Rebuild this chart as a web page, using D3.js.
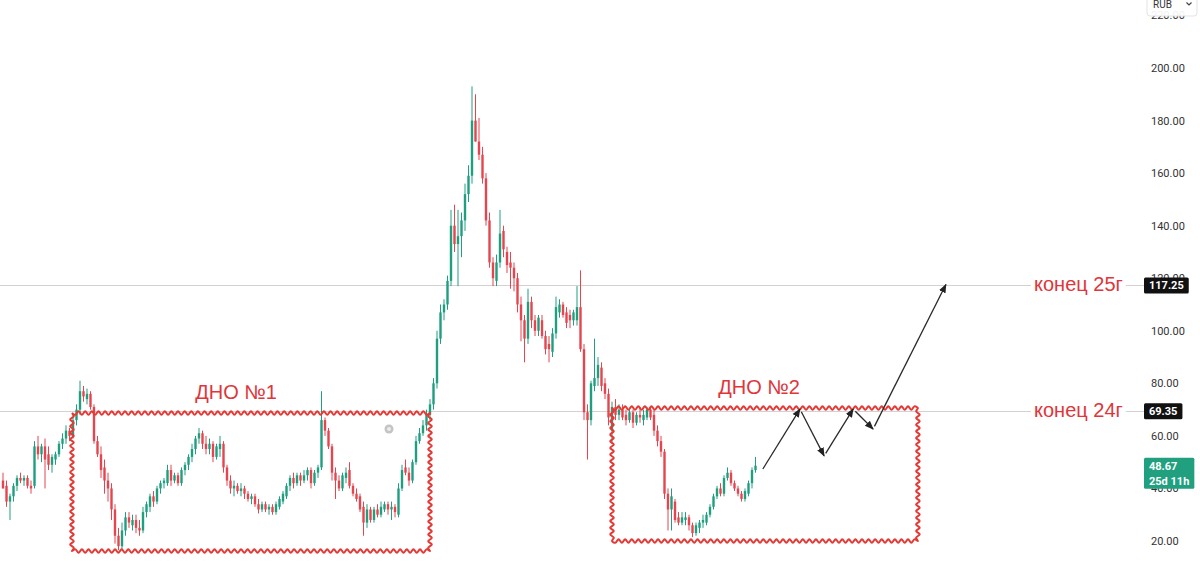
<!DOCTYPE html>
<html>
<head>
<meta charset="utf-8">
<script src="https://cdnjs.cloudflare.com/ajax/libs/d3/7.8.5/d3.min.js"></script>
<style>
html, body { margin: 0; padding: 0; background: #fff; }
svg { display: block; }
</style>
</head>
<body>
<svg id="chart" width="1200" height="562"></svg>
<script>
// candles as [open, high, low, close], split into runs of the chart
var leftRun = [[43,46,40,40],[41,43,33,35],[35,38,28,37],[37,42,35,41],[41,45,39,44],[44,46,42,43],[43,45,41,44],[44,45,40,41],[41,43,38,40],[41,58,40,56],[56,60,51,53],[53,57,50,56],[56,59,40,51],[53,56,47,49],[49,53,46,52],[51,54,49,53],[53,58,52,57],[57,61,55,59],[59,64,57,62],[62,63,58,60],[60,68,59,66],[66,72,64,70],[70,81,68,77],[77,79,73,75],[74,78,72,76],[76,77,70,71]];
var firstDrop = [[71,72,57,58],[58,60,52,53],[53,56,44,47],[48,51,38,43],[43,46,35,40],[40,42,28,32],[32,34,19,22],[22,25,16.5,18]];
var firstRise = [[18,27,17,24],[24,31,22,29],[29,31,25,27],[26,30,24,28],[28,30,23,25],[25,28,22,24],[24,33,23,31],[31,35,29,34],[33,38,31,37],[37,39,33,35],[35,41,34,40],[40,43,38,42],[42,44,40,43],[42,49,41,47],[47,49,41,43],[43,46,42,45],[45,46,41,42],[42,48,41,47],[47,50,45,49],[49,53,47,52],[52,57,50,55],[55,60,53,59],[59,63,57,61]];
var firstFade = [[61,62,55,57],[57,60,53,55],[55,59,53,57],[57,58,50,52],[52,57,51,56],[55,60,52,57],[57,58,46,48],[48,49,41,43],[43,45,38,40],[40,43,37,41],[41,42,38,39],[39,42,37,40],[40,41,36,38],[38,39,35,36],[36,38,34,37],[37,38,33,34],[34,36,30.5,32],[32,35,31,34],[34,35,31,32],[32,34,30,33],[33,34,30,31],[31,35,30,34],[33,37,32,36]];
var secondBump = [[35,39,34,38],[37,42,36,41],[41,45,39,44],[44,46,40,42],[42,46,41,45],[45,46,41,43],[43,47,42,45],[45,48,43,47],[47,48,40,42],[42,47,41,46],[46,49,44,48],[48,77,47,66]];
var secondFade = [[66,67,60,62],[62,63,55,56],[56,57,43,46],[46,48,36,43],[43,45,39,40],[40,46,39,45],[44,48,42,46],[47,50,40,41],[41,42,37,38],[38,40,35,36],[37,38,31,32],[33,35,22,27],[27,34,25,32],[32,33,27,28],[28,33,27,32],[32,34,29,30],[30,35,29,33],[32,35,31,34],[34,35,30,32],[32,35,28,33],[33,34,29,31]];
var breakout = [[30,42,29,40],[40,49,39,47],[48,51,45,46],[46,48,41,43],[43,51,42,50],[50,60,49,58],[58,63,57,61],[61,66,60,64],[64,70,62,68],[68,74,66,72],[72,82,70,80],[80,100,78,97],[97,110,95,107],[107,112,104,110],[110,121,108,119],[119,146,117,140],[140,148,130,133],[133,146,117,136],[136,145,128,142],[142,156,138,152],[152,163,149,159],[159,193,156,180]];
var collapse = [[180,190,172,172],[172,181,165,167],[167,170,156,158],[158,160,140,142],[142,145,124,126],[126,128,117,120],[119,129,117,126],[126,146,124,137],[138,140,128,131],[130,132,122,125],[126,130,116,124],[124,126,115,120],[120,122,107,110],[110,113,96,104],[104,106,88,97]];
var midRange = [[97,116,95,111],[111,113,101,104],[104,106,98,100],[100,106,98,105],[104,106,97,98],[98,100,91,93],[95,98,88,93],[92,101,90,99],[99,113,97,109],[107,112,105,110],[110,111,105,106],[107,109,101,103],[106,108,101,104],[104,108,102,107],[104,117,102,109]];
var secondDrop = [[109,123,92,93],[93,95,66,69],[69,72,51,66],[66,81,64,80],[79,97,77,82],[82,90,79,87],[86,88,77,79],[80,82,74,76],[76,78,64,67],[62,73,57,71]];
var plateau = [[71,74,66,68],[68,72,66,70],[70,72,66,67],[68,70,64,66],[66,70,65,69],[69,70,63,65],[65,69,64,68],[68,71,65,67],[66,70,64,68],[67,71,66,70],[70,71,66,67],[68,70,60,62]];
var thirdDrop = [[62,64,56,58],[58,60,52,54],[54,55,36,38],[38,40,24,32],[32,40,24,37],[35,36,27,28],[29,31,26,27],[27,31,26,29],[28,31,26,29],[29,30,24,26]];
var recovery = [[26,27,21.5,23],[23,27,22,26],[25,28,23,27],[27,30,25,28],[27,31,26,30],[30,34,29,33],[33,38,32,37],[37,41,36,40],[40,42,37,38],[38,45,37,44],[44,48,43,46],[46,47,41,42],[42,43,39,40],[40,41,37,38],[38,39,35,36],[36,40,35,39],[38,43,37,42],[42,48,40,47],[47,52,46,48.67]];

// axis and levels
var priceTicks = [20, 40, 60, 80, 100, 120, 140, 160, 180, 200, 220];
var levelPrices = [117.25, 69.35];
var levelNames = ['конец 25г', 'конец 24г'];
var lastPrice = 48.67;
var lastTimer = '25d 11h';

// bottoms (candle index range, price range)
var zoneNames = ['ДНО №1', 'ДНО №2'];
var zoneFrom = [19.7, 174];
var zoneTo = [122, 261.4];
var zoneTop = [68.7, 70.6];
var zoneBottom = [16.2, 20];
var zoneLabelAt = [66.6, 216];

// forecast path drawn with arrows (candle index, price)
var forecastIdx = [217.1, 227.7, 234.6, 242.9, 248.6, 269.4];
var forecastPrice = [47.4, 70.2, 52.4, 70.2, 62.6, 117.6];

var green = '#1f9f80', red = '#e6454f', noteRed = '#e0353a';

var candles = [].concat(leftRun, firstDrop, firstRise, firstFade, secondBump, secondFade,
  breakout, collapse, midRange, secondDrop, plateau, thirdDrop, recovery)
  .map(function(d, i) { return {i: i, o: d[0], h: d[1], l: d[2], c: d[3]}; });

var svg = d3.select('#chart');

var x = d3.scaleLinear()
  .domain([0, candles.length - 1])
  .range([3, 755.5]);
var y = d3.scaleLinear()
  .domain([20, 200])
  .range([541, 68]);

// horizontal level lines
svg.selectAll('.level')
  .data(levelPrices)
  .enter().append('line')
  .attr('class', 'level')
  .attr('x1', 0).attr('x2', 1145)
  .attr('y1', function(d) { return Math.round(y(d)) + 0.5; })
  .attr('y2', function(d) { return Math.round(y(d)) + 0.5; })
  .attr('stroke', '#d2d2d2')
  .attr('stroke-width', 1);

// candles
var cg = svg.append('g').attr('class', 'candles');
cg.selectAll('.wick')
  .data(candles)
  .enter().append('line')
  .attr('class', 'wick')
  .attr('x1', function(d) { return x(d.i); })
  .attr('x2', function(d) { return x(d.i); })
  .attr('y1', function(d) { return y(d.h); })
  .attr('y2', function(d) { return y(d.l); })
  .attr('stroke', function(d) { return d.c >= d.o ? green : red; })
  .attr('stroke-width', 1);
cg.selectAll('.body')
  .data(candles)
  .enter().append('rect')
  .attr('class', 'body')
  .attr('x', function(d) { return x(d.i) - 1.2; })
  .attr('width', 2.4)
  .attr('y', function(d) { return y(Math.max(d.o, d.c)); })
  .attr('height', function(d) { return Math.max(1, Math.abs(y(d.o) - y(d.c))); })
  .attr('fill', function(d) { return d.c >= d.o ? green : red; });

// wavy red frames
function zigEdge(a, b, pts) {
  var dx = b[0] - a[0], dy = b[1] - a[1];
  var len = Math.sqrt(dx * dx + dy * dy);
  var n = Math.max(2, Math.round(len / 3.3));
  var nx = -dy / len, ny = dx / len;
  for (var k = 0; k < n; k++) {
    var t = k / n, off = k === 0 ? 0 : (k % 2 ? 1.8 : -1.8);
    pts.push([a[0] + dx * t + nx * off, a[1] + dy * t + ny * off]);
  }
}
var zigLine = d3.line().curve(d3.curveCatmullRom.alpha(0.5));
zoneNames.forEach(function(name, k) {
  var x0 = x(zoneFrom[k]), x1 = x(zoneTo[k]);
  var y0 = y(zoneTop[k]), y1 = y(zoneBottom[k]);
  var pts = [];
  zigEdge([x0, y0], [x1, y0], pts);
  zigEdge([x1, y0], [x1, y1], pts);
  zigEdge([x1, y1], [x0, y1], pts);
  zigEdge([x0, y1], [x0, y0], pts);
  pts.push([x0, y0]);
  svg.append('path')
    .attr('d', zigLine(pts))
    .attr('fill', 'none')
    .attr('stroke', '#e53935')
    .attr('stroke-width', 2);
  svg.append('text')
    .attr('x', x(zoneLabelAt[k]))
    .attr('y', y(zoneTop[k]) - 14)
    .attr('text-anchor', 'middle')
    .attr('font-family', '"Liberation Sans", Arial, sans-serif')
    .attr('font-size', 20)
    .attr('fill', noteRed)
    .text(name);
});

// small grey alert icon
svg.append('circle').attr('cx', 389).attr('cy', 429).attr('r', 4.5)
  .attr('fill', '#c4c4c4');
svg.append('circle').attr('cx', 389).attr('cy', 429).attr('r', 2)
  .attr('fill', '#ececec');

// forecast arrows
svg.append('defs').append('marker')
  .attr('id', 'head')
  .attr('viewBox', '0 0 10 10')
  .attr('refX', 9).attr('refY', 5)
  .attr('markerWidth', 9).attr('markerHeight', 9)
  .attr('markerUnits', 'userSpaceOnUse')
  .attr('orient', 'auto')
  .append('path')
  .attr('d', 'M0,1 L10,5 L0,9 Z')
  .attr('fill', '#222');
for (var k = 0; k < forecastIdx.length - 1; k++) {
  var ax = x(forecastIdx[k]), ay = y(forecastPrice[k]);
  var bx = x(forecastIdx[k + 1]), by = y(forecastPrice[k + 1]);
  var len = Math.sqrt((bx - ax) * (bx - ax) + (by - ay) * (by - ay));
  var gap = k === 0 ? 0 : 3;
  svg.append('line')
    .attr('x1', ax + (bx - ax) / len * gap)
    .attr('y1', ay + (by - ay) / len * gap)
    .attr('x2', bx).attr('y2', by)
    .attr('stroke', '#2a2a2a')
    .attr('stroke-width', 1.3)
    .attr('marker-end', 'url(#head)');
}

// level notes with white background
levelPrices.forEach(function(p, k) {
  var t = svg.append('text')
    .attr('x', 1034)
    .attr('y', y(p) + 6)
    .attr('font-family', '"Liberation Sans", Arial, sans-serif')
    .attr('font-size', 20)
    .attr('fill', noteRed)
    .text(levelNames[k]);
  var bb = t.node().getBBox();
  svg.insert('rect', function() { return t.node(); })
    .attr('x', bb.x - 3).attr('y', bb.y)
    .attr('width', bb.width + 6).attr('height', bb.height)
    .attr('fill', '#fff');
});

// right price axis
var yAxis = d3.axisRight(y)
  .tickValues(priceTicks)
  .tickFormat(d3.format('.2f'))
  .tickSize(0)
  .tickPadding(0);
var axisG = svg.append('g')
  .attr('class', 'y axis')
  .attr('transform', 'translate(1151,0)')
  .call(yAxis);
axisG.select('.domain').remove();
axisG.selectAll('text')
  .attr('font-family', 'Roboto, "Liberation Sans", sans-serif')
  .attr('font-size', 11)
  .attr('fill', '#333');

// price tags
function priceTag(p, lines, fill) {
  var g = svg.append('g');
  var cy = y(p);
  var rect = g.append('rect').attr('fill', fill).attr('rx', 1.5);
  var w = 0;
  lines.forEach(function(s, j) {
    var t = g.append('text')
      .attr('x', 1149)
      .attr('y', cy + j * 15)
      .attr('dy', '0.35em')
      .attr('font-family', 'Roboto, "Liberation Sans", sans-serif')
      .attr('font-size', 11)
      .attr('font-weight', 'bold')
      .attr('fill', '#fff')
      .text(s);
    w = Math.max(w, t.node().getComputedTextLength());
  });
  rect.attr('x', 1144).attr('y', cy - 8)
    .attr('width', w + 10)
    .attr('height', 16 + (lines.length - 1) * 15);
}
priceTag(levelPrices[0], [d3.format('.2f')(levelPrices[0])], '#111');
priceTag(levelPrices[1], [d3.format('.2f')(levelPrices[1])], '#111');
priceTag(lastPrice, [d3.format('.2f')(lastPrice), lastTimer], '#21a07f');

// currency box at the top
svg.append('rect')
  .attr('x', 1147).attr('y', -6)
  .attr('width', 50).attr('height', 22)
  .attr('rx', 3)
  .attr('fill', '#fff')
  .attr('fill-opacity', 0.92)
  .attr('stroke', '#e3e3e3');
svg.append('text')
  .attr('x', 1153).attr('y', 8)
  .attr('font-family', 'Roboto, "Liberation Sans", sans-serif')
  .attr('font-size', 10)
  .attr('fill', '#333')
  .text('RUB');
svg.append('path')
  .attr('d', 'M1186.5,2.5 L1189,5 L1191.5,2.5')
  .attr('fill', 'none')
  .attr('stroke', '#444')
  .attr('stroke-width', 1.2);
</script>
</body>
</html>
